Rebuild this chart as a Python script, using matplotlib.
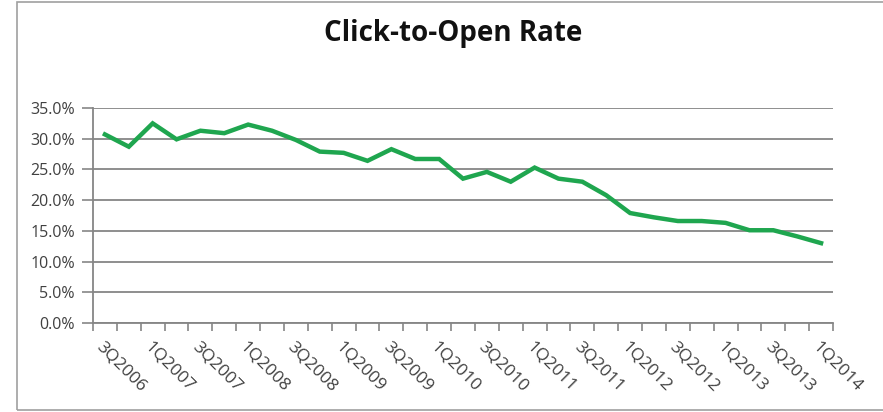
import matplotlib
matplotlib.use('Agg')
import matplotlib.pyplot as plt
from matplotlib.patches import Rectangle
from matplotlib.ticker import FuncFormatter, MultipleLocator
import numpy as np

quarters = ['3Q2006', '4Q2006',
            '1Q2007', '2Q2007', '3Q2007', '4Q2007',
            '1Q2008', '2Q2008', '3Q2008', '4Q2008',
            '1Q2009', '2Q2009', '3Q2009', '4Q2009',
            '1Q2010', '2Q2010', '3Q2010', '4Q2010',
            '1Q2011', '2Q2011', '3Q2011', '4Q2011',
            '1Q2012', '2Q2012', '3Q2012', '4Q2012',
            '1Q2013', '2Q2013', '3Q2013', '4Q2013',
            '1Q2014']
click_to_open = [30.7, 28.7, 32.5, 29.9, 31.3, 30.9, 32.3, 31.3, 29.8, 27.9,
                 27.7, 26.4, 28.3, 26.7, 26.7, 23.5, 24.6, 23.0, 25.3, 23.5,
                 23.0, 20.8, 17.9, 17.2, 16.6, 16.6, 16.3, 15.1, 15.1, 14.1,
                 13.0]

plt.rcParams['font.family'] = ['Open Sans', 'DejaVu Sans']
grid_grey = '#868686'
text_grey = '#404040'

fig = plt.figure(figsize=(8.83, 4.12), dpi=100)
ax = fig.add_axes([93 / 883, 1 - 323 / 412, 740 / 883, 215 / 412])

# chart frame (cut off on the right, like the screenshot)
fig.patches.append(Rectangle((17 / 883, 2 / 412), 1.0, 408 / 412,
                             transform=fig.transFigure, fill=False,
                             edgecolor='#a0a0a0', linewidth=1.2))

x = np.arange(len(quarters))
ax.plot(x, click_to_open, color='#1fa64f', linewidth=3.2, solid_joinstyle='miter')

ax.set_xlim(-0.5, len(quarters) - 0.5)
ax.set_ylim(0, 35)
ax.yaxis.set_major_locator(MultipleLocator(5))
ax.yaxis.set_major_formatter(FuncFormatter(lambda v, p: f'{v:.1f}%'))
ax.grid(axis='y', color=grid_grey, linewidth=1.3)
ax.set_axisbelow(True)

for s in ['top', 'right']:
    ax.spines[s].set_visible(False)
for s in ['left', 'bottom']:
    ax.spines[s].set_color(grid_grey)
    ax.spines[s].set_linewidth(1.3)

# quarter boundaries as minor ticks, labels every second quarter
ax.set_xticks(np.arange(-0.5, len(quarters)), minor=True)
ax.set_xticks(x[::2])
ax.set_xticklabels(quarters[::2], rotation=-45, ha='left', va='top',
                   rotation_mode='anchor', fontsize=12.5, color=text_grey)
ax.tick_params(axis='x', which='major', length=0, pad=11)
ax.tick_params(axis='x', which='minor', length=6, color=grid_grey, width=1.2)
ax.tick_params(axis='y', length=8, color=grid_grey, width=1.2, pad=5,
               labelsize=11.5, labelcolor=text_grey)

fig.text(453 / 883, 1 - 34 / 412, 'Click-to-Open Rate', ha='center', va='center',
         fontsize=20, fontweight='bold', color='#111111')

fig.savefig('out.png', dpi=100)
